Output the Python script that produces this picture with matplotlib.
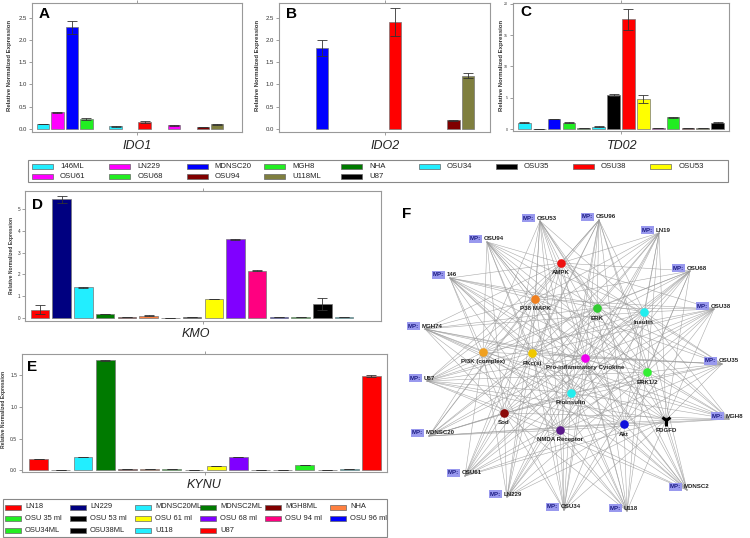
import numpy as np
import matplotlib
matplotlib.use("Agg")
import matplotlib.pyplot as plt
from matplotlib.patches import Rectangle

plt.rcParams['font.family'] = ['Liberation Sans', 'DejaVu Sans']

# ---------------- data ----------------
cells1 = ["146ML", "LN229", "MDNSC20", "MGH8", "NHA", "OSU34", "OSU35",
          "OSU38", "OSU53", "OSU61", "OSU68", "OSU94", "U118ML", "U87"]
colors1 = ["#22eeff", "#ff00ff", "#0000ff", "#22ee22", "#007a00", "#22eeff", "#000000",
           "#ff0000", "#ffff00", "#ff00ff", "#22ee22", "#800000", "#7f7f3f", "#000000"]
nan = np.nan
ido1 = [0.11, 0.37, 2.28, 0.22, nan, 0.06, nan, 0.15, nan, 0.08, nan, 0.045, 0.10, nan]
ido1_err = [0.01, 0.01, 0.15, 0.02, nan, 0.01, nan, 0.02, nan, 0.01, nan, 0.005, 0.01, nan]
ido2 = [nan, nan, 1.81, nan, nan, nan, nan, 2.40, nan, nan, nan, 0.19, 1.20, nan]
ido2_err = [nan, nan, 0.18, nan, nan, nan, nan, 0.32, nan, nan, nan, 0.01, 0.05, nan]
tdo2 = [1.05, 0.10, 1.65, 1.05, 0.20, 0.45, 5.45, 17.5, 4.8, 0.20, 1.9, 0.15, 0.20, 1.05]
tdo2_err = [0.05, 0.0, 0.05, 0.05, 0.0, 0.05, 0.1, 1.7, 0.65, 0.0, 0.1, 0.0, 0.0, 0.05]

cells2 = ["LN18", "LN229", "MDNSC20ML", "MDNSC2ML", "MGH8ML", "NHA",
          "OSU 35 ml", "OSU 53 ml", "OSU 61 ml", "OSU 68 ml", "OSU 94 ml", "OSU 96 ml",
          "OSU34ML", "OSU38ML", "U118", "U87"]
colors2 = ["#ff0000", "#000080", "#22eeff", "#007a00", "#800000", "#ff8040",
           "#22ee22", "#000000", "#ffff00", "#8000ff", "#ff0080", "#0000ff",
           "#22ee22", "#000000", "#22eeff", "#ff0000"]
kmo = [0.38, 5.44, 1.40, 0.17, 0.05, 0.11, 0.01, 0.03, 0.86, 3.62, 2.16, 0.03,
       0.05, 0.65, 0.03, nan]
kmo_err = [0.2, 0.15, 0.03, 0.01, 0.0, 0.01, 0.0, 0.0, 0.01, 0.02, 0.02, 0.0,
           0.0, 0.27, 0.0, nan]
kynu = [0.18, 0.005, 0.205, 1.74, 0.01, 0.01, 0.01, 0.005, 0.063, 0.20, 0.005, 0.005,
        0.08, 0.005, 0.02, 1.49]
kynu_err = [0.0, 0.0, 0.0, 0.01, 0.0, 0.0, 0.0, 0.0, 0.0, 0.0, 0.0, 0.0,
            0.0, 0.0, 0.0, 0.01]

# network (layout coordinates)
hub_names = ["AMPK", "P38 MAPK", "ERK", "Insulin", "PI3K (complex)", "PKc(s)",
             "Pro-inflammatory Cytokine", "ERK1/2", "Proinsulin", "Sod", "PDGFD",
             "Akt", "NMDA Receptor"]
hub_x = [561, 535, 597, 644, 483, 532, 585, 647, 571, 504, 666, 624, 560]
hub_y = [263, 299, 308, 312, 352, 353, 358, 372, 393, 413, 420, 424, 430]
hub_colors = ["#ee1111", "#f08020", "#33cc33", "#22eeee", "#f0a020", "#f0c800",
              "#ee00ee", "#33ee33", "#22eeee", "#8b0a0a", "#000000", "#1010dd", "#5a1a8a"]
mp_names = ["OSU53", "OSU96", "LN19", "OSU94", "146", "OSU68", "OSU38", "MGH74",
            "OSU35", "U87", "MGH8", "MDNSC20", "OSU61", "MDNSC2", "LN229", "OSU34", "U118"]
mp_x = [523, 582, 642, 470, 433, 673, 697, 408, 705, 410, 712, 412, 448, 670, 490, 547, 610]
mp_y = [218, 217, 230, 239, 275, 268, 306, 326, 361, 378, 416, 433, 473, 487, 494, 507, 508]

# ---------------- figure ----------------
W, H = 750, 538
fig = plt.figure(figsize=(W / 100, H / 100), dpi=100)


def px_axes(x0, y0, x1, y1):
    return fig.add_axes([x0 / W, 1 - y1 / H, (x1 - x0) / W, (y1 - y0) / H])


def fx(x):
    return x / W


def fy(y):
    return 1 - y / H


def bar_panel(box, vals, errs, cols, xlim, ylim, yticks, ylabels, tfs, letter, lpos,
              gene, gpos, ylab_pos, ylab_fs):
    ax = px_axes(*box)
    n = len(vals)
    ax.bar(np.arange(n), vals, width=0.85, color=cols, edgecolor='#777777',
           linewidth=0.5, yerr=errs,
           error_kw=dict(ecolor='#333333', elinewidth=0.6, capsize=3.5, capthick=0.6))
    ax.set_xlim(*xlim)
    ax.set_ylim(*ylim)
    ax.set_yticks(yticks)
    ax.set_yticklabels(ylabels, fontsize=tfs, color='#333333')
    ax.set_xticks([(xlim[0] + xlim[1]) / 2])
    ax.set_xticklabels([])
    ax.tick_params(axis='y', length=2, width=0.5, pad=1.5, color='#777777')
    ax.tick_params(axis='x', length=2.5, width=0.5, color='#777777', top=True)
    for s in ax.spines.values():
        s.set_color('#999999')
        s.set_linewidth(0.8)
    fig.text(fx(lpos[0]), fy(lpos[1]), letter, fontsize=11, fontweight='bold',
             ha='left', va='top')
    fig.text(fx(gpos[0]), fy(gpos[1]), gene, fontsize=9, style='italic',
             ha='center', va='center', color='#222222')
    fig.text(fx(ylab_pos[0]), fy(ylab_pos[1]), "Relative Normalized Expression",
             fontsize=ylab_fs, fontweight='bold', rotation=90, ha='center',
             va='center', color='#333333')
    return ax


lab25 = ["0.0", "0.5", "1.0", "1.5", "2.0", "2.5"]
t25 = [0, 0.5, 1.0, 1.5, 2.0, 2.5]
bar_panel((32, 3, 242, 132), ido1, ido1_err, colors1, (-0.75, 13.7), (-0.07, 2.83),
          t25, lab25, 4.3, "A", (39, 7), "IDO1", (137, 146), (10, 65), 4.3)
bar_panel((279, 3, 490, 132), ido2, ido2_err, colors1, (-0.92, 13.5), (-0.07, 2.83),
          t25, lab25, 4.3, "B", (286, 7), "IDO2", (385, 146), (258, 65), 4.3)
bar_panel((513, 3, 729, 131), tdo2, tdo2_err, colors1, (-0.76, 13.76), (-0.26, 20.1),
          [0, 5, 10, 15, 20], ["0", "5", "10", "15", "20"], 2.6, "C", (520, 5),
          "TD02", (622, 146), (501, 65), 4.3)
bar_panel((25, 191, 381, 321), kmo, kmo_err, colors2, (-0.69, 15.7), (-0.14, 5.83),
          [0, 1, 2, 3, 4, 5], ["0", "1", "2", "3", "4", "5"], 3.3, "D", (32, 198),
          "KMO", (196, 334), (12, 255), 3.6)
bar_panel((22, 354, 387, 472), kynu, kynu_err, colors2, (-0.75, 15.7), (-0.03, 1.84),
          [0, 0.5, 1.0, 1.5], ["0.0", "0.5", "1.0", "1.5"], 3.6, "E", (27, 360),
          "KYNU", (204, 485), (4, 410), 3.6)

# ---------------- legends ----------------
leg = fig.add_axes([0, 0, 1, 1], zorder=-1)
leg.set_xlim(0, W)
leg.set_ylim(H, 0)
leg.axis('off')
leg.add_patch(Rectangle((28, 160), 700, 22, fill=False, ec='#888888', lw=0.8))
for i, (nm, c) in enumerate(zip(cells1, colors1)):
    col, row = i % 9, i // 9
    x0 = 32 + col * 77.3
    y0 = 166 + row * 10
    leg.add_patch(Rectangle((x0, y0 - 2.5), 21, 5, fc=c, ec='#666666', lw=0.5))
    leg.text(x0 + 28, y0, nm, fontsize=5.6, va='center', ha='left', color='#222222')

leg.add_patch(Rectangle((3, 499), 384, 38, fill=False, ec='#888888', lw=0.8))
for i, (nm, c) in enumerate(zip(cells2, colors2)):
    col, row = i % 6, i // 6
    x0 = 5 + col * 65
    y0 = 507 + row * 11.5
    leg.add_patch(Rectangle((x0, y0 - 2.5), 16, 5, fc=c, ec='#666666', lw=0.5))
    leg.text(x0 + 20, y0, nm, fontsize=5.4, va='center', ha='left', color='#222222')

# ---------------- network ----------------
axf = px_axes(390, 190, 750, 538)
axf.set_xlim(390, 750)
axf.set_ylim(538, 190)
axf.axis('off')
for mx, my in zip(mp_x, mp_y):
    ex, ey = mx + 17, my + 3
    for hx, hy in zip(hub_x, hub_y):
        axf.plot([ex, hx], [ey, hy], color='#9a9a9a', lw=0.4, alpha=0.85, zorder=1)
for name, hx, hy, c in zip(hub_names, hub_x, hub_y, hub_colors):
    if name == "PDGFD":
        axf.plot(hx, hy, marker='1', ms=8, mew=2.2, color=c, zorder=3)
    else:
        axf.plot(hx, hy, 'o', ms=6.2, color=c, mec='none', zorder=3)
    axf.text(hx, hy + 10, name, fontsize=4.4, fontweight='bold', ha='center',
             va='center', color='#222222', zorder=4)
for name, mx, my in zip(mp_names, mp_x, mp_y):
    axf.text(mx, my, "MP:", fontsize=4.4, fontweight='bold', ha='left', va='center',
             color='#1a1a80', zorder=4,
             bbox=dict(boxstyle='square,pad=0.2', fc='#9999ee', ec='none'))
    axf.text(mx + 14, my, name, fontsize=4.4, fontweight='bold', ha='left',
             va='center', color='#222222', zorder=4)
fig.text(fx(402), fy(207), "F", fontsize=11, fontweight='bold', ha='left', va='top')

fig.savefig("out.png", dpi=100)
